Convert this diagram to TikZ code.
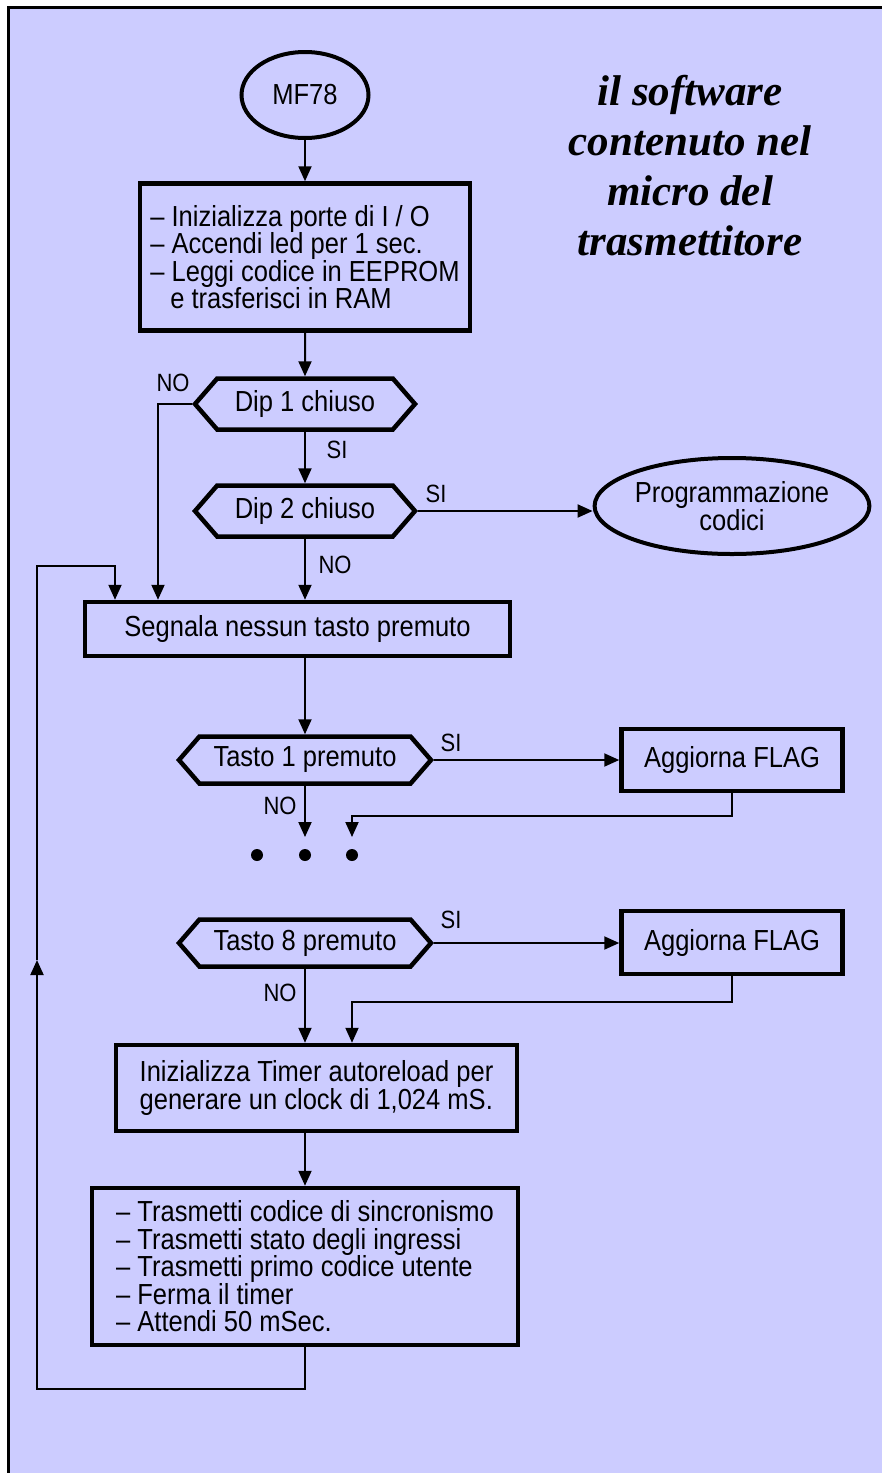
\documentclass[tikz,border=0pt]{standalone}
\usepackage{fontspec}
\setmainfont{Liberation Sans}[FakeStretch=0.88]
\newfontfamily\titlefont{Liberation Serif}
\usetikzlibrary{shapes.geometric,shapes.symbols,arrows.meta}
\definecolor{bgblue}{RGB}{204,204,255}

\tikzset{
  box/.style={rectangle, draw, line width=4.5pt, inner sep=0pt, align=left,
    font=\fontsize{29}{27.5}\selectfont},
  ask/.style={signal, signal to=west and east, signal pointer angle=98, draw,
    line width=4.5pt, inner sep=0pt, font=\fontsize{29}{28}\selectfont},
  oval/.style={ellipse, draw, line width=4pt, inner sep=0pt, align=center,
    font=\fontsize{29}{27}\selectfont},
  line/.style={line width=2pt},
  arr/.style={line width=2pt, -{Triangle[length=15pt,width=13pt]}},
  lbl/.style={inner sep=0pt, font=\fontsize{25}{25}\selectfont},
  dot/.style={circle, fill, inner sep=0pt, minimum size=12pt},
  title/.style={align=center, font=\titlefont\bfseries\itshape\fontsize{43}{50}\selectfont}
}

\begin{document}
\begin{tikzpicture}[x=1pt, y=-1pt]
  \useasboundingbox (0,0) rectangle (882,1473);
  \fill[bgblue] (8.5,7.5) rectangle (882,1473);
  \draw[line width=3pt] (8.5,1473) -- (8.5,7.5) -- (882,7.5);

  \node[title] (title) at (690,166) {il software\\contenuto nel\\micro del\\trasmettitore};

  \node[oval, minimum width=127pt, minimum height=86pt] (start) at (305,95) {MF78};
  \node[box, minimum width=330pt, minimum height=147pt] (init) at (305,257)
    {-- Inizializza porte di I / O\\-- Accendi led per 1 sec.\\-- Leggi codice in EEPROM\\\hspace*{20pt}e trasferisci in RAM};
  \node[ask, minimum width=220pt, minimum height=51pt] (dip1) at (305,404) {Dip 1 chiuso};
  \node[ask, minimum width=220pt, minimum height=51pt] (dip2) at (305,511) {Dip 2 chiuso};
  \node[oval, minimum width=252pt, minimum height=96pt] (prog) at (732,506) {Programmazione\\codici};
  \node[box, minimum width=425pt, minimum height=54pt] (segnala) at (297.5,629) {Segnala nessun tasto premuto};

  \node[ask, minimum width=252pt, minimum height=47pt] (tasto1) at (305,760) {Tasto 1 premuto};
  \node[box, minimum width=221pt, minimum height=62pt] (flag1) at (732,760) {Aggiorna FLAG};
  \node[dot] (dotA) at (257,855) {};
  \node[dot] (dotB) at (305,855) {};
  \node[dot] (dotC) at (352,855) {};
  \node[ask, minimum width=252pt, minimum height=47pt] (tasto8) at (305,943) {Tasto 8 premuto};
  \node[box, minimum width=221pt, minimum height=63pt] (flag8) at (732,942.5) {Aggiorna FLAG};

  \node[box, minimum width=401pt, minimum height=86pt] (timer) at (316.5,1088)
    {Inizializza Timer autoreload per\\generare un clock di 1,024 mS.};
  \node[box, minimum width=426pt, minimum height=157pt] (trasm) at (305,1266.5)
    {-- Trasmetti codice di sincronismo\\-- Trasmetti stato degli ingressi\\-- Trasmetti primo codice utente\\-- Ferma il timer\\-- Attendi 50 mSec.};

  \coordinate (dotin1) at (305,837);
  \coordinate (dotin2) at (352,837);
  \coordinate (loopbot) at (37,1389);
  \coordinate (loopmid) at (37,960);
  \coordinate (looptop) at (37,566);

  % main flow
  \draw[arr] (start) -- (init);
  \draw[arr] (init) -- (dip1);
  \draw[arr] (dip1.south) -- (dip2.north);
  \draw[arr] (dip2.east) -- (dip2.east -| prog.west);
  \draw[arr] (dip1.west) -| ([xshift=-139.5pt]segnala.north);
  \draw[arr] (dip2.south) -- (dip2.south |- segnala.north);
  \draw[arr] (tasto1.north |- segnala.south) -- (tasto1.north);

  \draw[arr] (tasto1.east) -- (flag1.west);
  \draw[arr] (tasto1.south) -- (dotin1);
  \draw[arr] (flag1.south) -- ++(0,23) -| (dotin2);

  \draw[arr] (tasto8.east) -- (tasto8.east -| flag8.west);
  \draw[arr] (tasto8.south) -- (tasto8.south |- timer.north);
  \draw[arr] (flag8.south) -- ++(0,26) -| ([xshift=35.5pt]timer.north);
  \draw[arr] (trasm.north |- timer.south) -- (trasm.north);

  % back to the start of the loop
  \draw[arr] (trasm.south) |- (loopbot) -- (loopmid);
  \draw[arr] (loopmid) -- (looptop) -| ([xshift=-182.5pt]segnala.north);

  \node[lbl] (no1) at (173,383) {NO};
  \node[lbl] (si1) at (337,450) {SI};
  \node[lbl] (si2) at (436,494) {SI};
  \node[lbl] (no2) at (335,565) {NO};
  \node[lbl] (si3) at (451,743) {SI};
  \node[lbl] (no3) at (280,806) {NO};
  \node[lbl] (si4) at (451,920) {SI};
  \node[lbl] (no4) at (280,993) {NO};
\end{tikzpicture}
\end{document}
